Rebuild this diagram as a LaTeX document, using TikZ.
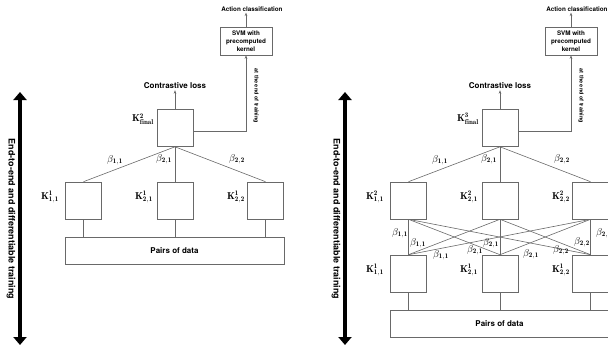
\documentclass[tikz,border=0pt]{standalone}
\usepackage{fontspec}
\setsansfont{TeX Gyre Heros}
\usetikzlibrary{arrows.meta,calc}
\definecolor{linegray}{RGB}{105,105,105}
\tikzset{
  kbox/.style={draw=linegray, line width=0.6pt, minimum width=36pt, minimum height=37pt, inner sep=0pt},
  conn/.style={draw=linegray, line width=0.6pt},
  arr/.style={conn, -{Stealth[length=3.5pt,width=2.6pt]}},
  bigarr/.style={line width=4pt, {Triangle[length=8pt,width=13pt]}-{Triangle[length=8pt,width=13pt]}},
  sidetxt/.style={font=\sffamily\bfseries\fontsize{9}{10}\selectfont, rotate=-90},
  txtm/.style={font=\sffamily\bfseries\fontsize{8}{9}\selectfont, inner sep=1pt},
  txts/.style={font=\sffamily\bfseries\fontsize{6.3}{7.5}\selectfont, inner sep=1pt},
  svmbox/.style={draw=linegray, line width=0.6pt, font=\sffamily\bfseries\fontsize{6.3}{7.8}\selectfont, align=center, minimum width=52pt, minimum height=28pt, inner sep=1pt},
  endtxt/.style={font=\sffamily\bfseries\fontsize{5.5}{6}\selectfont, rotate=-90, inner sep=0pt},
  pairs/.style={draw=linegray, line width=0.6pt, minimum width=219pt, minimum height=27pt, font=\sffamily\bfseries\fontsize{8}{9}\selectfont},
  klbl/.style={anchor=east, inner sep=1pt},
  blbl/.style={inner sep=0pt}
}
\begin{document}
\begin{tikzpicture}[x=1pt,y=-1pt]
\useasboundingbox (0,0) rectangle (608,351);
% ================= LEFT PANEL =================
\coordinate (arA1) at (20,92);
\coordinate (arA2) at (20,345);
\draw[bigarr] (arA1) -- (arA2);
\node[sidetxt] (sideA) at (11,219) {End-to-end and differentiable training};
% final
\node[kbox] (fA) at (175,128) {};
\node[klbl] (fAl) at (155,119) {$\mathbf{K}^{\mathbf{2}}_{\mathbf{final}}$};
\node[txtm] (clA) at (175,86) {Contrastive loss};
\draw[arr] (fA.north) -- (clA.south);
\node[svmbox] (svmA) at (246,41) {SVM with\\precomputed\\kernel};
\node[txts] (acA) at (252,9) {Action classification};
\draw[arr] (svmA.north) -- (svmA.north |- acA.south);
\draw[arr] ([yshift=-3pt]fA.east) -| (svmA.south);
\node[endtxt] (etA) at (256,96) {at the end of training};
% first layer
\node[kbox] (a11) at (83.5,200.5) {};
\node[kbox] (a21) at (175,200.5) {};
\node[kbox] (a22) at (265.5,200.5) {};
\node[klbl] (a11l) at (60,197) {$\mathbf{K}^{\mathbf{1}}_{\mathbf{1,1}}$};
\node[klbl] (a21l) at (154,197) {$\mathbf{K}^{\mathbf{1}}_{\mathbf{2,1}}$};
\node[klbl] (a22l) at (246,197) {$\mathbf{K}^{\mathbf{1}}_{\mathbf{2,2}}$};
\draw[conn] (fA.south) -- (a11.north);
\draw[conn] (fA.south) -- (a21.north);
\draw[conn] (fA.south) -- (a22.north);
\node[blbl] (bA1) at (115,160) {$\beta_{\mathbf{1,1}}$};
\node[blbl] (bA2) at (164,159) {$\beta_{\mathbf{2,1}}$};
\node[blbl] (bA3) at (237,159) {$\beta_{\mathbf{2,2}}$};
\node[pairs] (pA) at (174.5,250.5) {Pairs of data};
\draw[conn] (a11.south) -- (a11.south |- pA.north);
\draw[conn] (a21.south) -- (a21.south |- pA.north);
\draw[conn] (a22.south) -- (a22.south |- pA.north);
% ================= RIGHT PANEL =================
\coordinate (arB1) at (345,92);
\coordinate (arB2) at (345,345);
\draw[bigarr] (arB1) -- (arB2);
\node[sidetxt] (sideB) at (336,219) {End-to-end and differentiable training};
\node[kbox] (fB) at (500,128) {};
\node[klbl] (fBl) at (480,119) {$\mathbf{K}^{\mathbf{3}}_{\mathbf{final}}$};
\node[txtm] (clB) at (500,86) {Contrastive loss};
\draw[arr] (fB.north) -- (clB.south);
\node[svmbox] (svmB) at (571,41) {SVM with\\precomputed\\kernel};
\node[txts] (acB) at (577,9) {Action classification};
\draw[arr] (svmB.north) -- (svmB.north |- acB.south);
\draw[arr] ([yshift=-3pt]fB.east) -| (svmB.south);
\node[endtxt] (etB) at (581,96) {at the end of training};
% second layer
\node[kbox] (c11) at (408.5,200.5) {};
\node[kbox] (c21) at (500,200.5) {};
\node[kbox] (c22) at (590.5,200.5) {};
\node[klbl] (c11l) at (385,197) {$\mathbf{K}^{\mathbf{2}}_{\mathbf{1,1}}$};
\node[klbl] (c21l) at (479,197) {$\mathbf{K}^{\mathbf{2}}_{\mathbf{2,1}}$};
\node[klbl] (c22l) at (571,197) {$\mathbf{K}^{\mathbf{2}}_{\mathbf{2,2}}$};
\draw[conn] (fB.south) -- (c11.north);
\draw[conn] (fB.south) -- (c21.north);
\draw[conn] (fB.south) -- (c22.north);
\node[blbl] (bB1) at (440,160) {$\beta_{\mathbf{1,1}}$};
\node[blbl] (bB2) at (489,159) {$\beta_{\mathbf{2,1}}$};
\node[blbl] (bB3) at (562,159) {$\beta_{\mathbf{2,2}}$};
% first layer
\node[kbox] (d11) at (408.5,273.5) {};
\node[kbox] (d21) at (500,273.5) {};
\node[kbox] (d22) at (590.5,273.5) {};
\node[klbl] (d11l) at (385,270) {$\mathbf{K}^{\mathbf{1}}_{\mathbf{1,1}}$};
\node[klbl] (d21l) at (479,270) {$\mathbf{K}^{\mathbf{1}}_{\mathbf{2,1}}$};
\node[klbl] (d22l) at (571,270) {$\mathbf{K}^{\mathbf{1}}_{\mathbf{2,2}}$};
\foreach \s in {d11,d21,d22}{
  \foreach \t in {c11,c21,c22}{
    \draw[conn] (\s.north) -- (\t.south);
  }
}
\node[blbl] (x1) at (400,233) {$\beta_{\mathbf{1,1}}$};
\node[blbl] (x2) at (418,243) {$\beta_{\mathbf{1,1}}$};
\node[blbl] (x3) at (441,255) {$\beta_{\mathbf{1,1}}$};
\node[blbl] (x4) at (475,250) {$\beta_{\mathbf{2,1}}$};
\node[blbl] (x5) at (491,243) {$\beta_{\mathbf{2,1}}$};
\node[blbl] (x6) at (531,254) {$\beta_{\mathbf{2,1}}$};
\node[blbl] (x7) at (561,250) {$\beta_{\mathbf{2,2}}$};
\node[blbl] (x8) at (582,242) {$\beta_{\mathbf{2,2}}$};
\node[blbl] (x9) at (604,233) {$\beta_{\mathbf{2,2}}$};
\node[pairs] (pB) at (499.5,323.5) {Pairs of data};
\draw[conn] (d11.south) -- (d11.south |- pB.north);
\draw[conn] (d21.south) -- (d21.south |- pB.north);
\draw[conn] (d22.south) -- (d22.south |- pB.north);
\end{tikzpicture}
\end{document}
